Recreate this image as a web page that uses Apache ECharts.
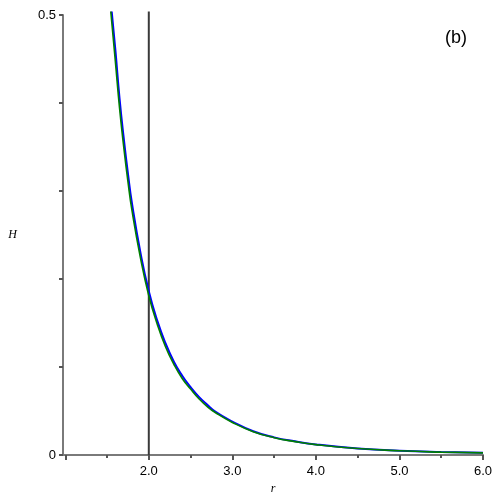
<!DOCTYPE html>
<html>
<head>
<meta charset="utf-8">
<script src="https://cdn.jsdelivr.net/npm/echarts@6/dist/echarts.min.js"></script>
<style>
  html, body { margin: 0; padding: 0; background: #fff; }
  #main { width: 500px; height: 500px; }
</style>
</head>
<body>
<div id="main"></div>
<script>
// 读图得到的数据
var rBlue  = [1.556, 1.6, 1.65, 1.7, 1.75, 1.8, 1.9, 2.0, 2.1, 2.2, 2.3, 2.4, 2.5, 2.6, 2.7, 2.8, 3.0, 3.25, 3.5, 3.75, 4.0, 4.5, 5.0, 5.5, 6.0];
var hBlue  = [0.504, 0.46, 0.405, 0.36, 0.32, 0.285, 0.23, 0.186, 0.153, 0.127, 0.106, 0.09, 0.077, 0.066, 0.057, 0.049, 0.038, 0.027, 0.020, 0.0155, 0.012, 0.0075, 0.0049, 0.0034, 0.0025];
var rGreen = [1.545, 1.6, 1.65, 1.7, 1.75, 1.8, 1.9, 2.0, 2.1, 2.2, 2.3, 2.4, 2.5, 2.6, 2.7, 2.8, 3.0, 3.25, 3.5, 3.75, 4.0, 4.5, 5.0, 5.5, 6.0];
var hGreen = [0.504, 0.447, 0.394, 0.35, 0.311, 0.277, 0.224, 0.181, 0.149, 0.123, 0.103, 0.087, 0.075, 0.064, 0.055, 0.048, 0.037, 0.0265, 0.0197, 0.0152, 0.0118, 0.0074, 0.0048, 0.0033, 0.0024];
var vLineR = [2.0, 2.0];
var vLineH = [0, 0.504];
var xMajorTicks = [1, 2, 3, 4, 5, 6];
var xMinorTicks = [1.5, 2.5, 3.5, 4.5, 5.5];
var xLabels = [2, 3, 4, 5, 6];

function pairs(xs, ys) {
    return xs.map(function (x, i) { return [x, ys[i]]; });
}

var myChart = echarts.init(document.getElementById('main'));
var labelFont = { fontFamily: 'Liberation Sans', fontSize: 13, color: '#000' };

var option = {
    animation: false,
    title: {
        text: '(b)',
        left: 440,
        top: 24,
        textStyle: { fontFamily: 'Liberation Sans', fontSize: 18, fontWeight: 'normal', color: '#000' }
    },
    grid: { left: 63, right: 17, top: 15, bottom: 45, outerBoundsMode: 'none' },
    xAxis: [
        {
            type: 'value', min: 0.973, max: 6,
            name: 'r', nameLocation: 'middle', nameGap: 28,
            nameTextStyle: { fontFamily: 'Liberation Serif', fontStyle: 'italic', fontSize: 12, color: '#000' },
            axisLine: { lineStyle: { color: '#7a7a7a', width: 2 } },
            axisTick: { customValues: xMajorTicks, length: 5, lineStyle: { color: '#555', width: 2 } },
            axisLabel: Object.assign({ customValues: xLabels, margin: 10, formatter: function (v) { return v.toFixed(1); } }, labelFont),
            splitLine: { show: false }
        },
        {
            type: 'value', min: 0.973, max: 6, position: 'bottom',
            axisLine: { show: false },
            axisTick: { customValues: xMinorTicks, length: 3, lineStyle: { color: '#555', width: 2 } },
            axisLabel: { show: false },
            splitLine: { show: false }
        }
    ],
    yAxis: {
        type: 'value', min: 0, max: 0.5, interval: 0.1,
        name: 'H', nameLocation: 'middle', nameGap: 46, nameRotate: 0,
        nameTextStyle: { fontFamily: 'Liberation Serif', fontStyle: 'italic', fontSize: 12, color: '#000' },
        axisLine: { show: true, lineStyle: { color: '#7a7a7a', width: 2 } },
        axisTick: { show: true, length: 4, lineStyle: { color: '#555', width: 2 } },
        axisLabel: Object.assign({
            margin: 7,
            formatter: function (v) {
                if (v === 0) return '0';
                if (Math.abs(v - 0.5) < 1e-9) return '0.5';
                return '';
            }
        }, labelFont),
        splitLine: { show: false }
    },
    series: [
        {
            type: 'line', xAxisIndex: 0, data: pairs(vLineR, vLineH),
            showSymbol: false, clip: false,
            lineStyle: { color: '#3a3a3a', width: 2 }
        },
        {
            type: 'line', xAxisIndex: 0, data: pairs(rBlue, hBlue),
            showSymbol: false, smooth: true, clip: false,
            lineStyle: { color: '#0000ff', width: 2 }
        },
        {
            type: 'line', xAxisIndex: 0, data: pairs(rGreen, hGreen),
            showSymbol: false, smooth: true, clip: false,
            lineStyle: { color: '#008000', width: 1.6 }
        }
    ]
};
myChart.setOption(option);
</script>
</body>
</html>
